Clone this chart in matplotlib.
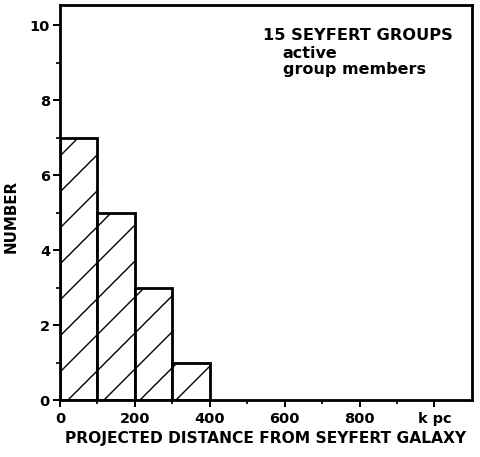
import numpy as np
import matplotlib
matplotlib.use("Agg")
import matplotlib.pyplot as plt

# Histogram of projected distances (kpc) of active group members
bin_edges = [0, 100, 200, 300, 400]
counts = [7, 5, 3, 1]

x_ticks = [0, 200, 400, 600, 800, 1000]
x_tick_labels = ["0", "200", "400", "600", "800", "k pc"]
y_ticks = [0, 2, 4, 6, 8, 10]

# dpi chosen so the hatch spacing comes out close to the scanned figure
DPI = 108
def pt(px):
    return px * 72.0 / DPI

plt.rcParams['font.family'] = ['DejaVu Sans']
plt.rcParams['font.weight'] = 'bold'
plt.rcParams['hatch.linewidth'] = pt(1.4)

fig = plt.figure(figsize=(480 / DPI, 457 / DPI), dpi=DPI)
ax = fig.add_axes([0.125, 0.1247, 0.858, 0.864])

widths = np.diff(bin_edges)
ax.bar(bin_edges[:-1], counts, width=widths, align="edge",
       facecolor="white", edgecolor="black", linewidth=pt(2.8), hatch="/")

ax.set_xlim(0, 1100)
ax.set_ylim(0, 10.53)

ax.set_xticks(x_ticks)
ax.set_xticklabels(x_tick_labels)
ax.set_xticks(np.arange(100, 1100, 200), minor=True)
ax.set_yticks(y_ticks)
ax.set_yticks(np.arange(1, 11, 2), minor=True)

ax.tick_params(which="major", direction="out", length=pt(7), width=pt(2),
               labelsize=pt(14.5))
ax.tick_params(axis="x", which="major", pad=pt(5))
ax.tick_params(axis="y", which="major", pad=pt(3))
ax.tick_params(which="minor", direction="out", length=pt(3.5), width=pt(1.7))

for s in ax.spines.values():
    s.set_linewidth(pt(2.8))

ax.set_xlabel("PROJECTED DISTANCE FROM SEYFERT GALAXY", fontsize=pt(15.5),
              fontweight="bold", labelpad=pt(5))
ax.set_ylabel("NUMBER", fontsize=pt(15), fontweight="bold")
ax.yaxis.set_label_coords(-0.1, 0.466)

ax.text(0.493, 0.911, "15 SEYFERT GROUPS", transform=ax.transAxes,
        fontsize=pt(16.3), ha="left", va="baseline")
ax.text(0.541, 0.866, "active", transform=ax.transAxes,
        fontsize=pt(16), ha="left", va="baseline")
ax.text(0.541, 0.825, "group members", transform=ax.transAxes,
        fontsize=pt(16), ha="left", va="baseline")

plt.savefig("out.png", dpi=DPI)
